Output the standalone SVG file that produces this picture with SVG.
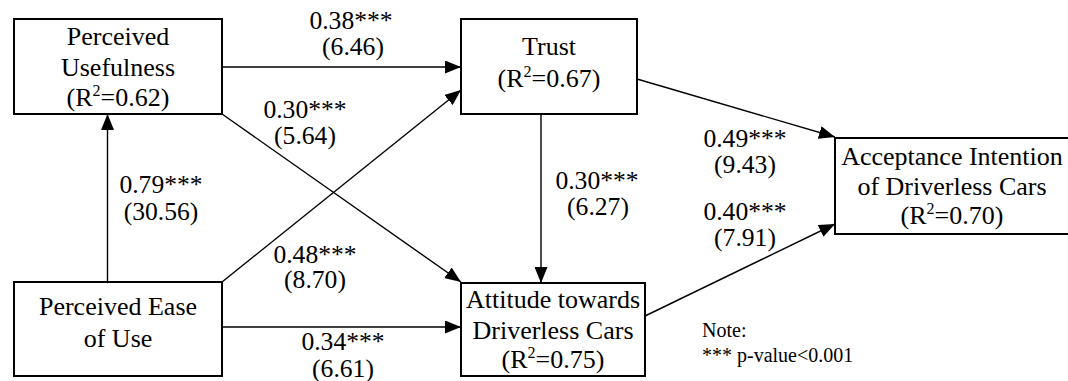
<svg xmlns="http://www.w3.org/2000/svg" width="1068" height="381" viewBox="0 0 1068 381">
<style>
.box{fill:#fff;stroke:#000;stroke-width:2}
.lbl{font-family:'Liberation Serif',serif;font-size:25.6px;fill:#000;text-anchor:middle}
.nd{font-family:'Times New Roman','Liberation Serif',serif;font-size:26px;fill:#000;text-anchor:middle}
.note{font-family:'Liberation Serif',serif;font-size:20px;fill:#000}
.conn{stroke:#000;stroke-width:1.4;fill:none;marker-end:url(#ah)}
.sup{font-size:16px}
</style>
<defs>
<marker id="ah" markerUnits="userSpaceOnUse" markerWidth="16" markerHeight="13" refX="16" refY="6.5" orient="auto">
<path d="M0,0 L16,6.5 L0,13 z" fill="#000"/>
</marker>
</defs>
<rect width="1068" height="381" fill="#fff"/>
<g id="connectors">
<line class="conn" x1="222" y1="67" x2="461" y2="67"/>
<line class="conn" x1="107.5" y1="282" x2="107.5" y2="114"/>
<line class="conn" x1="222" y1="114" x2="461" y2="282"/>
<line class="conn" x1="222" y1="282" x2="461" y2="90"/>
<line class="conn" x1="222" y1="327" x2="461" y2="327"/>
<line class="conn" x1="541" y1="114" x2="541" y2="283"/>
<line class="conn" x1="637" y1="79" x2="835" y2="137"/>
<line class="conn" x1="645" y1="316" x2="835" y2="224"/>
</g>
<g id="labels">
<text class="lbl" x="351" y="29">0.38***</text><text class="lbl" x="353" y="55">(6.46)</text>
<text class="lbl" x="305" y="118">0.30***</text><text class="lbl" x="305" y="144">(5.64)</text>
<text class="lbl" x="161" y="193">0.79***</text><text class="lbl" x="161" y="220">(30.56)</text>
<text class="lbl" x="315" y="263">0.48***</text><text class="lbl" x="315" y="288">(8.70)</text>
<text class="lbl" x="343" y="350">0.34***</text><text class="lbl" x="343" y="377">(6.61)</text>
<text class="lbl" x="597" y="189">0.30***</text><text class="lbl" x="598" y="215">(6.27)</text>
<text class="lbl" x="745" y="147">0.49***</text><text class="lbl" x="745" y="173">(9.43)</text>
<text class="lbl" x="745" y="220">0.40***</text><text class="lbl" x="745" y="246">(7.91)</text>
</g>
<g id="pu">
<rect class="box" x="14" y="19" width="208" height="95"/>
<text class="nd" x="118" y="45">Perceived</text>
<text class="nd" x="118" y="76">Usefulness</text>
<text class="nd" x="118" y="106">(R<tspan class="sup" dy="-10">2</tspan><tspan dy="10">=0.62)</tspan></text>
</g>
<g id="trust">
<rect class="box" x="461" y="19" width="176" height="95"/>
<text class="nd" x="549" y="55">Trust</text>
<text class="nd" x="549" y="87">(R<tspan class="sup" dy="-10">2</tspan><tspan dy="10">=0.67)</tspan></text>
</g>
<g id="acceptance">
<rect class="box" x="835" y="138" width="234" height="96"/>
<text class="nd" x="952" y="165">Acceptance Intention</text>
<text class="nd" x="952" y="195">of Driverless Cars</text>
<text class="nd" x="952" y="224">(R<tspan class="sup" dy="-10">2</tspan><tspan dy="10">=0.70)</tspan></text>
</g>
<g id="peou">
<rect class="box" x="14" y="282" width="208" height="94"/>
<text class="nd" x="118" y="315">Perceived Ease</text>
<text class="nd" x="118" y="347">of Use</text>
</g>
<g id="attitude">
<rect class="box" x="461" y="283" width="184" height="93"/>
<text class="nd" x="553" y="308">Attitude towards</text>
<text class="nd" x="553" y="339">Driverless Cars</text>
<text class="nd" x="553" y="368">(R<tspan class="sup" dy="-10">2</tspan><tspan dy="10">=0.75)</tspan></text>
</g>
<g id="note">
<text class="note" x="702" y="337">Note:</text>
<text class="note" x="702" y="362">*** p-value&lt;0.001</text>
</g>
</svg>
